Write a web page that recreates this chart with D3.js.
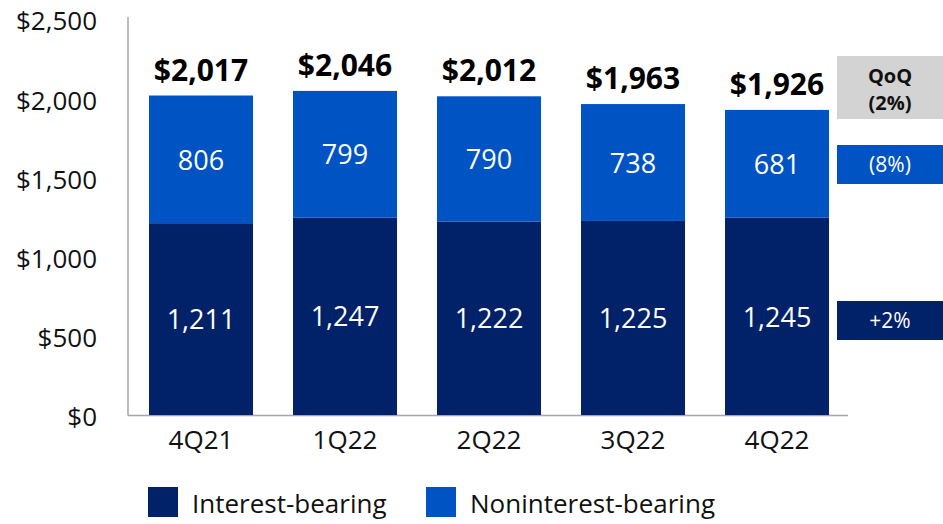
<!DOCTYPE html>
<html>
<head>
<meta charset="utf-8">
<script src="https://cdn.jsdelivr.net/npm/d3@7/dist/d3.min.js"></script>
<style>
  html, body { margin: 0; padding: 0; background: #fff; }
  svg { display: block; font-family: "Open Sans", "Noto Sans", sans-serif; }
</style>
</head>
<body>
<svg id="chart" width="943" height="524"></svg>
<script>
const categories = ["4Q21", "1Q22", "2Q22", "3Q22", "4Q22"];
const interestBearing = [1211, 1247, 1222, 1225, 1245];
const noninterestBearing = [806, 799, 790, 738, 681];
const totals = [2017, 2046, 2012, 1963, 1926];
const totalLabels = ["$2,017", "$2,046", "$2,012", "$1,963", "$1,926"];
const yTicks = [0, 500, 1000, 1500, 2000, 2500];
const yTickLabels = ["$0", "$500", "$1,000", "$1,500", "$2,000", "$2,500"];
const seriesNames = ["Interest-bearing", "Noninterest-bearing"];
const qoqHeader = ["QoQ", "(2%)"];
const qoqLabels = ["(8%)", "+2%"]; // noninterest, interest

const colors = { interest: "#012169", noninterest: "#0053c3", axis: "#a6a6a6", gray: "#d3d3d3" };

const svg = d3.select("#chart");

const x = d3.scaleBand().domain(categories).range([129, 849]).paddingInner(40/144).paddingOuter(20/144);
const y = d3.scaleLinear().domain([0, 2500]).range([415, 19]);

// Y axis labels
const yAxis = d3.axisLeft(y).tickValues(yTicks).tickSize(0).tickPadding(0)
  .tickFormat((d, i) => yTickLabels[i]);
const gy = svg.append("g").attr("transform", "translate(97,0)").call(yAxis);
gy.select(".domain").remove();
gy.selectAll("text").attr("font-size", 26).attr("fill", "#111").attr("dy", "0.42em")
  .style("font-family", "'Open Sans', sans-serif");

// Axis lines
svg.append("line").attr("x1", 128).attr("x2", 128).attr("y1", 17).attr("y2", 415.5)
  .attr("stroke", colors.axis).attr("stroke-width", 1.5);
svg.append("line").attr("x1", 128).attr("x2", 848).attr("y1", 415.5).attr("y2", 415.5)
  .attr("stroke", colors.axis).attr("stroke-width", 1.5);

// Stacked data
const rows = categories.map((c, i) => ({ cat: c, interest: interestBearing[i], noninterest: noninterestBearing[i] }));
const stack = d3.stack().keys(["interest", "noninterest"])(rows);

const layers = svg.append("g").selectAll("g").data(stack).join("g")
  .attr("fill", d => colors[d.key]);
layers.selectAll("rect").data(d => d).join("rect")
  .attr("x", d => x(d.data.cat))
  .attr("width", x.bandwidth())
  .attr("y", d => y(d[1]))
  .attr("height", d => y(d[0]) - y(d[1]));

// Segment labels
layers.selectAll("text").data(d => d).join("text")
  .attr("x", d => x(d.data.cat) + x.bandwidth() / 2)
  .attr("y", d => (y(d[0]) + y(d[1])) / 2)
  .attr("dy", "0.38em")
  .attr("text-anchor", "middle")
  .attr("fill", "#fff")
  .attr("font-size", 27)
  .text(d => d3.format(",")(d[1] - d[0]));

// Total labels
svg.append("g").selectAll("text").data(categories).join("text")
  .attr("x", d => x(d) + x.bandwidth() / 2)
  .attr("y", (d, i) => y(totals[i]) - 15)
  .attr("text-anchor", "middle")
  .attr("font-size", 30)
  .attr("font-weight", "bold")
  .attr("fill", "#000")
  .text((d, i) => totalLabels[i]);

// X axis labels
const xAxis = d3.axisBottom(x).tickSize(0).tickPadding(0);
const gx = svg.append("g").attr("transform", "translate(0,415)").call(xAxis);
gx.select(".domain").remove();
gx.selectAll("text").attr("font-size", 26).attr("fill", "#111").attr("dy", "1.3em")
  .style("font-family", "'Open Sans', sans-serif");

// QoQ boxes
const qx = 837, qw = 106, qcx = 890;
svg.append("rect").attr("x", qx).attr("y", 56).attr("width", qw).attr("height", 63).attr("fill", colors.gray);
svg.append("text").attr("x", qcx).attr("y", 83).attr("text-anchor", "middle").attr("font-size", 20)
  .attr("font-weight", "bold").attr("fill", "#111").text(qoqHeader[0]);
svg.append("text").attr("x", qcx).attr("y", 110).attr("text-anchor", "middle").attr("font-size", 20)
  .attr("font-weight", "bold").attr("fill", "#111").text(qoqHeader[1]);

svg.append("rect").attr("x", qx).attr("y", 145).attr("width", qw).attr("height", 39).attr("fill", colors.noninterest);
svg.append("text").attr("x", qcx).attr("y", 164.5).attr("dy", "0.36em").attr("text-anchor", "middle")
  .attr("font-size", 21).attr("fill", "#fff").text(qoqLabels[0]);

svg.append("rect").attr("x", qx).attr("y", 301).attr("width", qw).attr("height", 39).attr("fill", colors.interest);
svg.append("text").attr("x", qcx).attr("y", 320.5).attr("dy", "0.36em").attr("text-anchor", "middle")
  .attr("font-size", 21).attr("fill", "#fff").text(qoqLabels[1]);

// Legend
const legendX = [148, 426];
const legendKeys = ["interest", "noninterest"];
const lg = svg.append("g").selectAll("g").data(seriesNames).join("g")
  .attr("transform", (d, i) => `translate(${legendX[i]},487)`);
lg.append("rect").attr("width", 30).attr("height", 30).attr("fill", (d, i) => colors[legendKeys[i]]);
lg.append("text").attr("x", 44).attr("y", 26).attr("font-size", 26).attr("fill", "#111").text(d => d);
</script>
</body>
</html>
